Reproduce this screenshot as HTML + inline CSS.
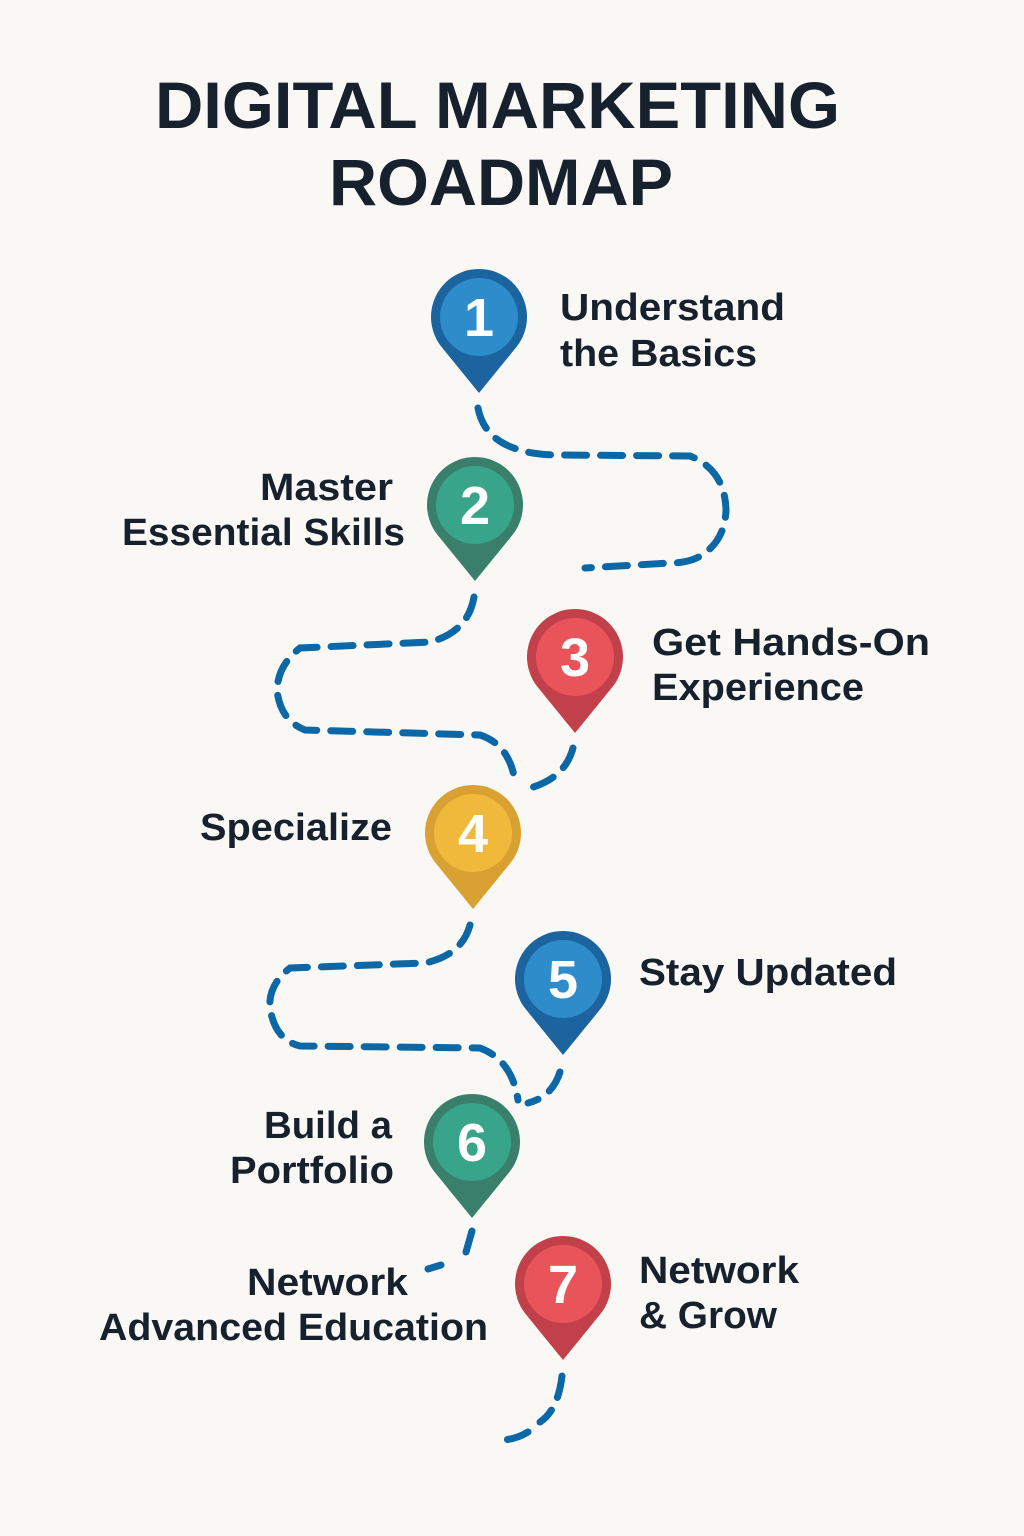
<!DOCTYPE html>
<html><head><meta charset="utf-8"><style>
html,body{margin:0;padding:0;background:#faf8f5;}
svg{display:block}
text{font-family:"Liberation Sans",sans-serif;font-weight:bold;fill:#17212e}
.n{fill:#fff;font-size:54px;text-anchor:middle}
.l{font-size:38px}
</style></head><body>
<svg width="1024" height="1536" viewBox="0 0 1024 1536">
<rect width="1024" height="1536" fill="#faf8f5"/>
<text x="155" y="128" font-size="66" textLength="685" lengthAdjust="spacingAndGlyphs">DIGITAL MARKETING</text>
<text x="329" y="205" font-size="66" textLength="344" lengthAdjust="spacingAndGlyphs">ROADMAP</text>

<g fill="none" stroke="#0b67a6" stroke-width="7" stroke-linecap="round" stroke-dasharray="22 14">
<path d="M478,408 Q484,440 520,450 Q535,455 560,455 L690,456 Q725,470 726,510 Q725,540 702,555 Q690,563 670,563 L585,568"/>
<path d="M474,597 Q468,632 430,642 L300,648 Q278,665 277,690 Q280,720 305,730 L480,735 Q510,745 515,782"/>
<path d="M573,748 Q565,778 530,788"/>
<path d="M470,925 Q462,955 425,963 L290,968 Q268,985 270,1008 Q275,1040 300,1046 L480,1048 Q512,1060 518,1100"/>
<path d="M560,1072 Q552,1097 528,1103"/>
<path d="M472,1231 L466,1252"/>
<path d="M441,1265 L428,1269"/>
<path d="M562,1376 Q558,1410 540,1422 M528,1432 Q515,1440 500,1440"/>
</g>

<defs>
<path id="pin" d="M-37.2,30.3 A48,48 0 1 1 37.2,30.3 L0,76 Z"/>
</defs>
<g transform="translate(479,317)"><use href="#pin" fill="#1b64a0"/><circle r="39" fill="#2f8ccb"/><text class="n" y="19">1</text></g>
<g transform="translate(475,505)"><use href="#pin" fill="#3a7f6c"/><circle r="39" fill="#38a58a"/><text class="n" y="19">2</text></g>
<g transform="translate(575,657)"><use href="#pin" fill="#c2404a"/><circle r="39" fill="#e9545b"/><text class="n" y="19">3</text></g>
<g transform="translate(473,833)"><use href="#pin" fill="#d9a032"/><circle r="39" fill="#f0b93c"/><text class="n" y="19">4</text></g>
<g transform="translate(563,979)"><use href="#pin" fill="#1b64a0"/><circle r="39" fill="#2f8ccb"/><text class="n" y="19">5</text></g>
<g transform="translate(472,1142)"><use href="#pin" fill="#3a7f6c"/><circle r="39" fill="#38a58a"/><text class="n" y="19">6</text></g>
<g transform="translate(563,1284)"><use href="#pin" fill="#c2404a"/><circle r="39" fill="#e9545b"/><text class="n" y="19">7</text></g>

<text class="l" x="560" y="320" textLength="225" lengthAdjust="spacingAndGlyphs">Understand</text>
<text class="l" x="560" y="366" textLength="197" lengthAdjust="spacingAndGlyphs">the Basics</text>
<text class="l" x="260" y="500" textLength="133" lengthAdjust="spacingAndGlyphs">Master</text>
<text class="l" x="122" y="545" textLength="283" lengthAdjust="spacingAndGlyphs">Essential Skills</text>
<text class="l" x="652" y="655" textLength="278" lengthAdjust="spacingAndGlyphs">Get Hands-On</text>
<text class="l" x="652" y="700" textLength="212" lengthAdjust="spacingAndGlyphs">Experience</text>
<text class="l" x="200" y="840" textLength="192" lengthAdjust="spacingAndGlyphs">Specialize</text>
<text class="l" x="639" y="985" textLength="258" lengthAdjust="spacingAndGlyphs">Stay Updated</text>
<text class="l" x="264" y="1138" textLength="128" lengthAdjust="spacingAndGlyphs">Build a</text>
<text class="l" x="230" y="1183" textLength="164" lengthAdjust="spacingAndGlyphs">Portfolio</text>
<text class="l" x="247" y="1295" textLength="161" lengthAdjust="spacingAndGlyphs">Network</text>
<text class="l" x="99" y="1340" textLength="389" lengthAdjust="spacingAndGlyphs">Advanced Education</text>
<text class="l" x="639" y="1283" textLength="160" lengthAdjust="spacingAndGlyphs">Network</text>
<text class="l" x="639" y="1328" textLength="138" lengthAdjust="spacingAndGlyphs">&amp; Grow</text>
</svg>
</body></html>
